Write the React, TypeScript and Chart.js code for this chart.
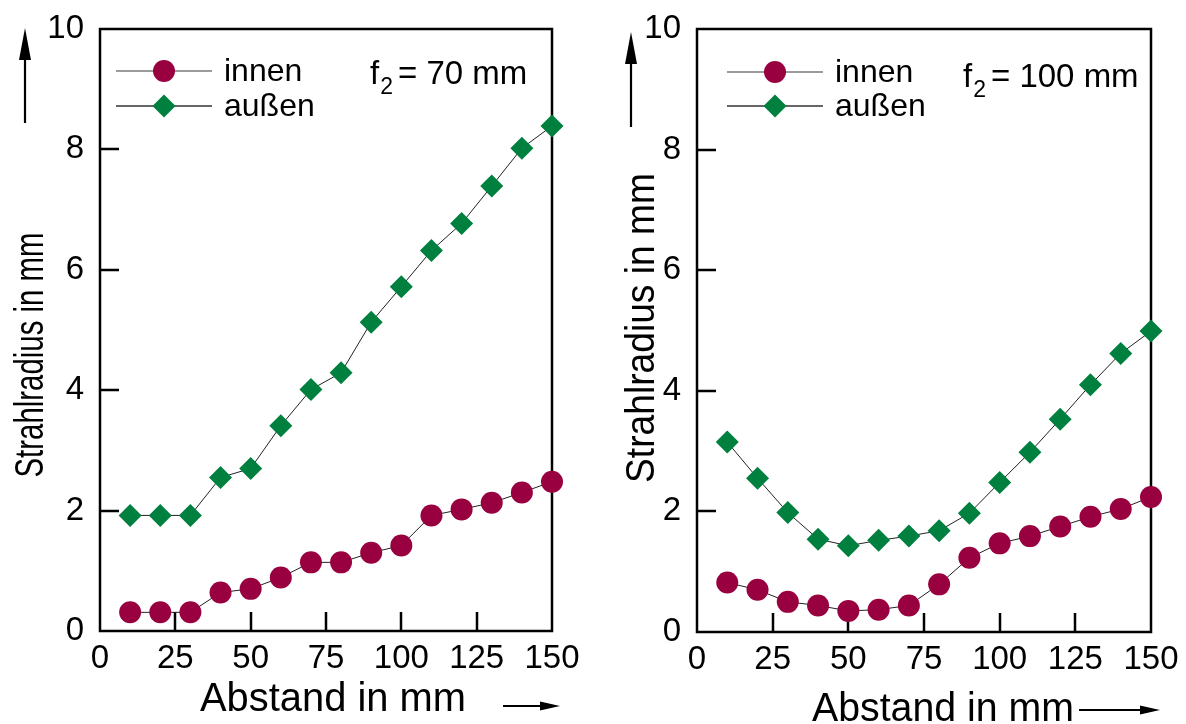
import React, { useEffect, useRef } from 'react';
import { Chart, registerables } from 'chart.js';

Chart.register(...registerables);

// ---- data ----
const distances = [10, 20, 30, 40, 50, 60, 70, 80, 90, 100, 110, 120, 130, 140, 150];
const innen70 = [0.31, 0.31, 0.31, 0.64, 0.7, 0.89, 1.14, 1.14, 1.3, 1.42, 1.92, 2.02, 2.13, 2.3, 2.48];
const aussen70 = [1.92, 1.92, 1.92, 2.55, 2.7, 3.41, 4.01, 4.29, 5.13, 5.72, 6.32, 6.77, 7.39, 8.02, 8.39];
const innen100 = [0.82, 0.7, 0.5, 0.44, 0.35, 0.37, 0.44, 0.79, 1.23, 1.47, 1.59, 1.75, 1.91, 2.04, 2.24];
const aussen100 = [3.15, 2.55, 1.98, 1.54, 1.43, 1.52, 1.59, 1.68, 1.97, 2.48, 2.98, 3.53, 4.1, 4.62, 4.99];
const xTickValues = [0, 25, 50, 75, 100, 125, 150];
const yTickValues = [0, 2, 4, 6, 8, 10];
const seriesNames = ['innen', 'außen'];
const focalLengths = ['70 mm', '100 mm'];
const xTitleText = 'Abstand in mm';
const yTitleText = 'Strahlradius in mm';

const MAROON = '#990040';
const GREEN = '#00803F';
const FONT = '"Liberation Sans", Arial, sans-serif';

type Panel = {
  width: number;
  pad: { top: number; right: number };
  yWidth: number;
  xHeight: number;
  yTitle: { x: number; y: number; w: number };
  xTitle: { cx: number; base: number; w: number };
  yArrow: { x: number; top: number; bottom: number };
  xArrow: { x0: number; x1: number; y: number };
  legend: { x0: number; x1: number; mx: number; rows: number[]; tx: number };
  f2: { x: number; base: number };
};

const panels: Panel[] = [
  {
    width: 593,
    pad: { top: 29, right: 41 },
    yWidth: 100,
    xHeight: 93,
    yTitle: { x: 43, y: 355, w: 245 },
    xTitle: { cx: 333, base: 711, w: 266 },
    yArrow: { x: 25, top: 28, bottom: 123 },
    xArrow: { x0: 503, x1: 560, y: 706 },
    legend: { x0: 116, x1: 212, mx: 164, rows: [71, 106], tx: 224 },
    f2: { x: 370, base: 84 },
  },
  {
    width: 593,
    pad: { top: 29, right: 35 },
    yWidth: 104,
    xHeight: 92,
    yTitle: { x: 61, y: 328, w: 310 },
    xTitle: { cx: 350, base: 721, w: 262 },
    yArrow: { x: 38, top: 32, bottom: 127 },
    xArrow: { x0: 486, x1: 567, y: 710 },
    legend: { x0: 134, x1: 230, mx: 182, rows: [72, 106], tx: 242 },
    f2: { x: 370, base: 87 },
  },
];

function stretchText(ctx: CanvasRenderingContext2D, text: string, x: number, y: number, size: number, width: number, rotate = false) {
  ctx.save();
  ctx.font = `${size}px ${FONT}`;
  const w = ctx.measureText(text).width;
  ctx.translate(x, y);
  if (rotate) ctx.rotate(-Math.PI / 2);
  ctx.scale(width / w, 1);
  ctx.textAlign = 'center';
  ctx.textBaseline = 'alphabetic';
  ctx.fillStyle = '#000';
  ctx.fillText(text, 0, 0);
  ctx.restore();
}

function arrow(ctx: CanvasRenderingContext2D, x0: number, y0: number, x1: number, y1: number, headLen: number, headHalf: number) {
  const ang = Math.atan2(y1 - y0, x1 - x0);
  ctx.save();
  ctx.strokeStyle = '#000';
  ctx.fillStyle = '#000';
  ctx.lineWidth = 2.2;
  ctx.beginPath();
  ctx.moveTo(x0, y0);
  ctx.lineTo(x1 - Math.cos(ang) * headLen * 0.8, y1 - Math.sin(ang) * headLen * 0.8);
  ctx.stroke();
  ctx.translate(x1, y1);
  ctx.rotate(ang);
  ctx.beginPath();
  ctx.moveTo(0, 0);
  ctx.lineTo(-headLen, -headHalf);
  ctx.lineTo(-headLen, headHalf);
  ctx.closePath();
  ctx.fill();
  ctx.restore();
}

function makeDecor(p: Panel, focal: string) {
  return {
    id: 'decor',
    beforeDatasetsDraw(chart: any) {
      const ctx: CanvasRenderingContext2D = chart.ctx;
      const { left, right, top, bottom } = chart.chartArea;
      const xs = chart.scales.x;
      const ys = chart.scales.y;
      ctx.save();
      ctx.strokeStyle = '#000';
      ctx.lineWidth = 2.5;
      ctx.strokeRect(left, top, right - left, bottom - top);
      ctx.beginPath();
      xTickValues.slice(1, -1).forEach((v) => {
        const px = Math.round(xs.getPixelForValue(v));
        ctx.moveTo(px, bottom);
        ctx.lineTo(px, bottom - 19);
      });
      yTickValues.slice(1, -1).forEach((v) => {
        const py = Math.round(ys.getPixelForValue(v));
        ctx.moveTo(left, py);
        ctx.lineTo(left + 19, py);
      });
      ctx.stroke();
      ctx.restore();
    },
    afterDraw(chart: any) {
      const ctx: CanvasRenderingContext2D = chart.ctx;
      // axis titles
      stretchText(ctx, yTitleText, p.yTitle.x, p.yTitle.y, 40, p.yTitle.w, true);
      stretchText(ctx, xTitleText, p.xTitle.cx, p.xTitle.base, 40, p.xTitle.w);
      // arrows
      arrow(ctx, p.yArrow.x, p.yArrow.bottom, p.yArrow.x, p.yArrow.top, 32, 6);
      arrow(ctx, p.xArrow.x0, p.xArrow.y, p.xArrow.x1, p.xArrow.y, 20, 4.5);
      // legend
      const L = p.legend;
      ctx.save();
      L.rows.forEach((ry, i) => {
        ctx.strokeStyle = i === 0 ? '#7a7a7a' : '#333';
        ctx.lineWidth = 1.5;
        ctx.beginPath();
        ctx.moveTo(L.x0, ry);
        ctx.lineTo(L.x1, ry);
        ctx.stroke();
        ctx.beginPath();
        if (i === 0) {
          ctx.fillStyle = MAROON;
          ctx.arc(L.mx, ry, 11, 0, Math.PI * 2);
        } else {
          ctx.fillStyle = GREEN;
          ctx.moveTo(L.mx - 11.5, ry);
          ctx.lineTo(L.mx, ry - 11.5);
          ctx.lineTo(L.mx + 11.5, ry);
          ctx.lineTo(L.mx, ry + 11.5);
          ctx.closePath();
        }
        ctx.fill();
        ctx.fillStyle = '#000';
        ctx.font = `32px ${FONT}`;
        ctx.textAlign = 'left';
        ctx.textBaseline = 'alphabetic';
        ctx.fillText(seriesNames[i], L.tx, ry + 10);
      });
      // f2 label
      ctx.fillStyle = '#000';
      ctx.font = `33px ${FONT}`;
      ctx.fillText('f', p.f2.x, p.f2.base);
      const fw = ctx.measureText('f').width;
      ctx.font = `23px ${FONT}`;
      ctx.fillText('2', p.f2.x + fw + 1, p.f2.base + 10);
      const sw = ctx.measureText('2').width;
      ctx.font = `33px ${FONT}`;
      ctx.fillText('= ' + focal, p.f2.x + fw + sw + 6, p.f2.base);
      ctx.restore();
    },
  };
}

function ChartPanel({ idx, innen, aussen }: { idx: number; innen: number[]; aussen: number[] }) {
  const ref = useRef<HTMLCanvasElement>(null);
  useEffect(() => {
    const p = panels[idx];
    const tickFont = { family: FONT, size: 33 };
    const chart = new Chart(ref.current as HTMLCanvasElement, {
      type: 'line',
      data: {
        datasets: [
          {
            label: seriesNames[0],
            data: distances.map((x, i) => ({ x, y: innen[i] })),
            borderColor: '#222',
            borderWidth: 1,
            pointStyle: 'circle',
            pointRadius: 11,
            pointBackgroundColor: MAROON,
            pointBorderColor: MAROON,
            pointBorderWidth: 0,
            clip: false,
          },
          {
            label: seriesNames[1],
            data: distances.map((x, i) => ({ x, y: aussen[i] })),
            borderColor: '#222',
            borderWidth: 1,
            pointStyle: 'rectRot',
            pointRadius: 11.5,
            pointBackgroundColor: GREEN,
            pointBorderColor: GREEN,
            pointBorderWidth: 0,
            clip: false,
          },
        ],
      },
      options: {
        animation: false,
        responsive: false,
        devicePixelRatio: 1,
        events: [],
        layout: { padding: { left: 0, top: p.pad.top, right: p.pad.right, bottom: 0 } },
        plugins: { legend: { display: false }, tooltip: { enabled: false } },
        scales: {
          x: {
            type: 'linear',
            min: 0,
            max: 150,
            afterBuildTicks: (s: any) => {
              s.ticks = xTickValues.map((v) => ({ value: v }));
            },
            grid: { display: false, drawTicks: false },
            border: { display: false },
            ticks: { font: tickFont, color: '#000', padding: 8, maxRotation: 0, autoSkip: false },
            afterFit: (s: any) => {
              s.height = p.xHeight;
              s.paddingLeft = 0;
              s.paddingRight = 0;
            },
          },
          y: {
            type: 'linear',
            min: 0,
            max: 10,
            afterBuildTicks: (s: any) => {
              s.ticks = yTickValues.map((v) => ({ value: v }));
            },
            grid: { display: false, drawTicks: false },
            border: { display: false },
            ticks: { font: tickFont, color: '#000', padding: 16, autoSkip: false },
            afterFit: (s: any) => {
              s.width = p.yWidth;
              s.paddingTop = 0;
              s.paddingBottom = 0;
            },
          },
        },
      } as any,
      plugins: [makeDecor(p, focalLengths[idx])],
    });
    return () => chart.destroy();
  }, [idx, innen, aussen]);
  return <canvas ref={ref} width={panels[idx].width} height={724} style={{ display: 'block' }} />;
}

export default function App() {
  return (
    <div style={{ position: 'fixed', left: 0, top: 0, width: 1186, height: 724, display: 'flex', background: '#fff' }}>
      <ChartPanel idx={0} innen={innen70} aussen={aussen70} />
      <ChartPanel idx={1} innen={innen100} aussen={aussen100} />
    </div>
  );
}
